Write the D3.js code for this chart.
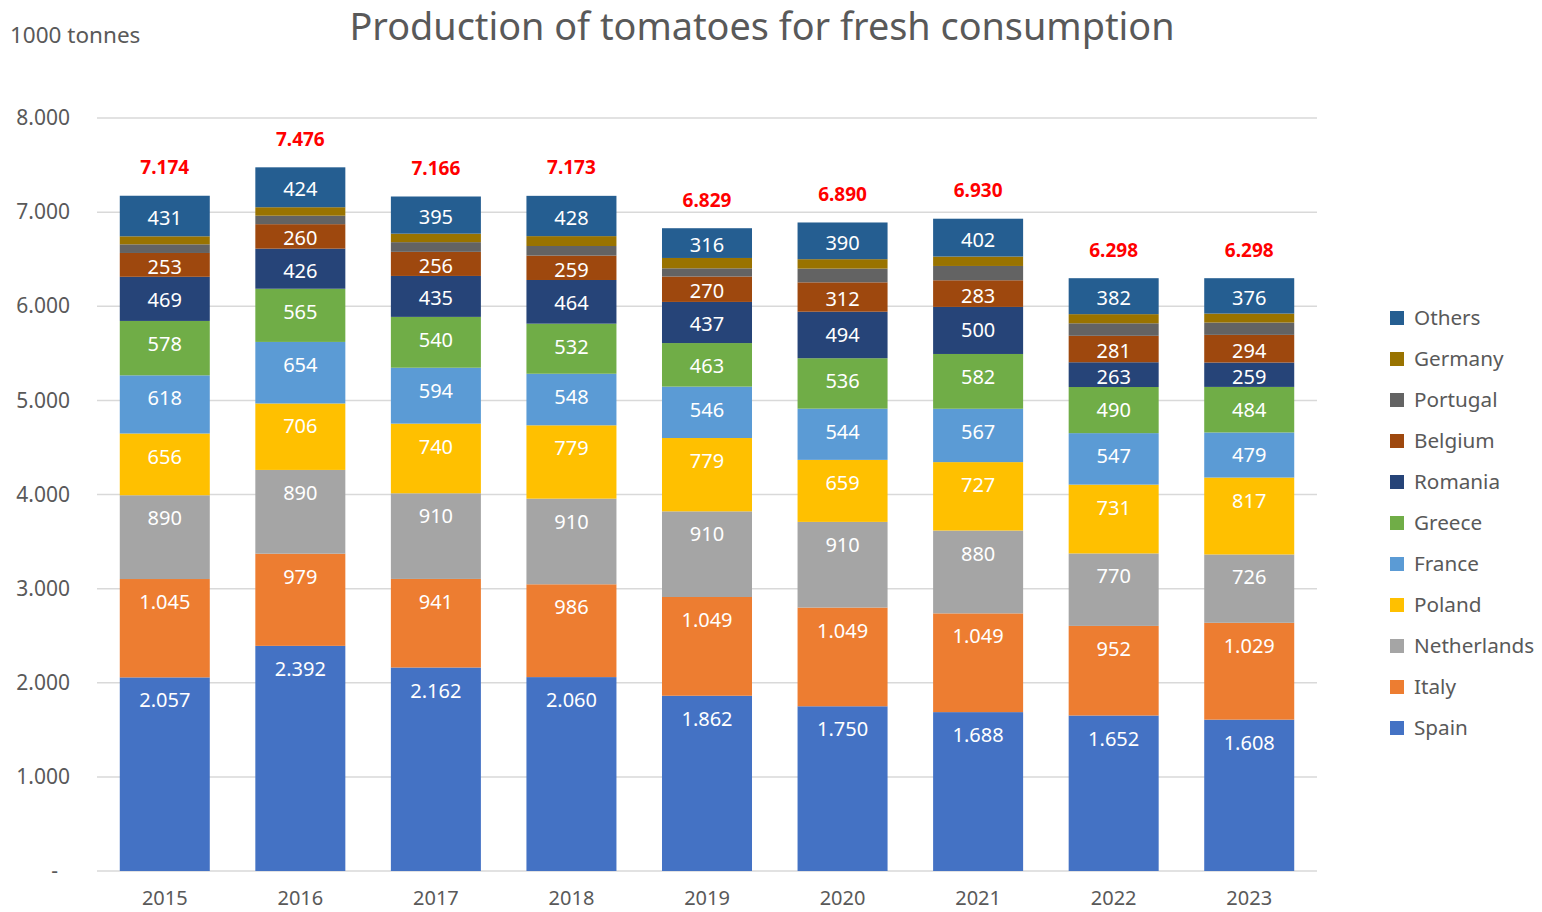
<!DOCTYPE html>
<html>
<head>
<meta charset="utf-8">
<script src="https://cdn.jsdelivr.net/npm/d3@7"></script>
<style>
  body { margin: 0; background: #fff; }
  svg text { font-family: "Noto Sans", "Open Sans", sans-serif; }
</style>
</head>
<body>
<svg id="chart" width="1542" height="912"></svg>
<script>
// years on the x axis
var years = ["2015", "2016", "2017", "2018", "2019", "2020", "2021", "2022", "2023"];

// series, bottom to top
var spain       = [2057, 2392, 2162, 2060, 1862, 1750, 1688, 1652, 1608];
var italy       = [1045, 979, 941, 986, 1049, 1049, 1049, 952, 1029];
var netherlands = [890, 890, 910, 910, 910, 910, 880, 770, 726];
var poland      = [656, 706, 740, 779, 779, 659, 727, 731, 817];
var france      = [618, 654, 594, 548, 546, 544, 567, 547, 479];
var greece      = [578, 565, 540, 532, 463, 536, 582, 490, 484];
var romania     = [469, 426, 435, 464, 437, 494, 500, 263, 259];
var belgium     = [253, 260, 256, 259, 270, 312, 283, 281, 294];
var portugal    = [92, 90, 103, 102, 87, 146, 152, 133, 131];
var germany     = [85, 90, 90, 105, 110, 100, 100, 97, 95];
var others      = [431, 424, 395, 428, 316, 390, 402, 382, 376];

// printed totals above the bars
var totals = [7174, 7476, 7166, 7173, 6829, 6890, 6930, 6298, 6298];

var yTicks = [0, 1000, 2000, 3000, 4000, 5000, 6000, 7000, 8000];

var series = [
  { name: "Spain", values: spain, color: "#4472C4", label: true },
  { name: "Italy", values: italy, color: "#ED7D31", label: true },
  { name: "Netherlands", values: netherlands, color: "#A5A5A5", label: true },
  { name: "Poland", values: poland, color: "#FFC000", label: true },
  { name: "France", values: france, color: "#5B9BD5", label: true },
  { name: "Greece", values: greece, color: "#70AD47", label: true },
  { name: "Romania", values: romania, color: "#264478", label: true },
  { name: "Belgium", values: belgium, color: "#9E480E", label: true },
  { name: "Portugal", values: portugal, color: "#636363", label: false },
  { name: "Germany", values: germany, color: "#997300", label: false },
  { name: "Others", values: others, color: "#255E91", label: true }
];

var loc = d3.formatLocale({ decimal: ",", thousands: ".", grouping: [3], currency: ["", ""] });
var fmt = loc.format(",d");

var svg = d3.select("#chart");

var xScale = d3.scaleBand().domain(years).range([97, 1317])
  .paddingInner(0.336).paddingOuter(0.168);
var yScale = d3.scaleLinear().domain([0, 8000]).range([871, 118]);

// gridlines
svg.append("g").selectAll("line")
  .data(yTicks)
  .join("line")
  .attr("x1", 97).attr("x2", 1317)
  .attr("y1", d => yScale(d)).attr("y2", d => yScale(d))
  .attr("stroke", "#d9d9d9").attr("stroke-width", 1.5);

// y axis labels
var yAxis = d3.axisLeft(yScale).tickValues(yTicks)
  .tickFormat(d => d === 0 ? "-" : fmt(d)).tickSize(0).tickPadding(0);
var gy = svg.append("g").attr("transform", "translate(70,0)").call(yAxis);
gy.select(".domain").remove();
gy.selectAll("text").attr("font-size", 21).attr("fill", "#595959")
  .style("font-family", "'Noto Sans', 'Open Sans', sans-serif")
  .attr("dx", d => d === 0 ? -12 : 0);

// x axis labels
var xAxis = d3.axisBottom(xScale).tickSize(0).tickPadding(0);
var gx = svg.append("g").attr("transform", "translate(0,891)").call(xAxis);
gx.select(".domain").remove();
gx.selectAll("text").attr("font-size", 20).attr("fill", "#595959")
  .style("font-family", "'Noto Sans', 'Open Sans', sans-serif");

// stack the data
var rows = years.map((y, i) => {
  var r = { year: y };
  series.forEach(s => { r[s.name] = s.values[i]; });
  return r;
});
var stack = d3.stack().keys(series.map(s => s.name));
var stacked = stack(rows);

var layers = svg.append("g").selectAll("g")
  .data(stacked)
  .join("g")
  .attr("fill", (d, i) => series[i].color);

layers.selectAll("rect")
  .data(d => d)
  .join("rect")
  .attr("x", d => xScale(d.data.year))
  .attr("width", xScale.bandwidth())
  .attr("y", d => yScale(d[1]))
  .attr("height", d => yScale(d[0]) - yScale(d[1]));

// segment labels sit near the top of each segment
function labelY(d) {
  var top = yScale(d[1]);
  var h = yScale(d[0]) - top;
  return top + Math.min(23, h / 2 + 2);
}
stacked.forEach((layer, i) => {
  if (!series[i].label) return;
  svg.append("g").selectAll("text")
    .data(layer)
    .join("text")
    .attr("x", d => xScale(d.data.year) + xScale.bandwidth() / 2)
    .attr("y", labelY)
    .attr("dy", "0.35em")
    .attr("text-anchor", "middle")
    .attr("font-size", 20)
    .attr("fill", "#fff")
    .text(d => fmt(d.data[series[i].name]));
});

// totals
var tops = stacked[stacked.length - 1];
svg.append("g").selectAll("text")
  .data(tops)
  .join("text")
  .attr("x", d => xScale(d.data.year) + xScale.bandwidth() / 2)
  .attr("y", d => yScale(d[1]) - 28)
  .attr("dy", "0.35em")
  .attr("text-anchor", "middle")
  .attr("font-size", 19)
  .attr("font-weight", "bold")
  .attr("fill", "#FF0000")
  .text((d, i) => fmt(totals[i]));

// legend, top item is the top of the stack
var legendItems = series.slice().reverse();
var lg = svg.append("g").selectAll("g")
  .data(legendItems)
  .join("g")
  .attr("transform", (d, i) => "translate(1390," + (318 + i * 41) + ")");
lg.append("rect").attr("x", 0).attr("y", -7).attr("width", 14).attr("height", 14)
  .attr("fill", d => d.color);
lg.append("text").attr("x", 24).attr("dy", "0.35em")
  .attr("font-size", 20.7).attr("fill", "#595959")
  .text(d => d.name);

// titles
svg.append("text").attr("x", 762).attr("y", 40)
  .attr("text-anchor", "middle").attr("font-size", 37.8).attr("fill", "#595959")
  .text("Production of tomatoes for fresh consumption");
svg.append("text").attr("x", 10).attr("y", 43)
  .attr("font-size", 22.5).attr("fill", "#595959")
  .text("1000 tonnes");
</script>
</body>
</html>
